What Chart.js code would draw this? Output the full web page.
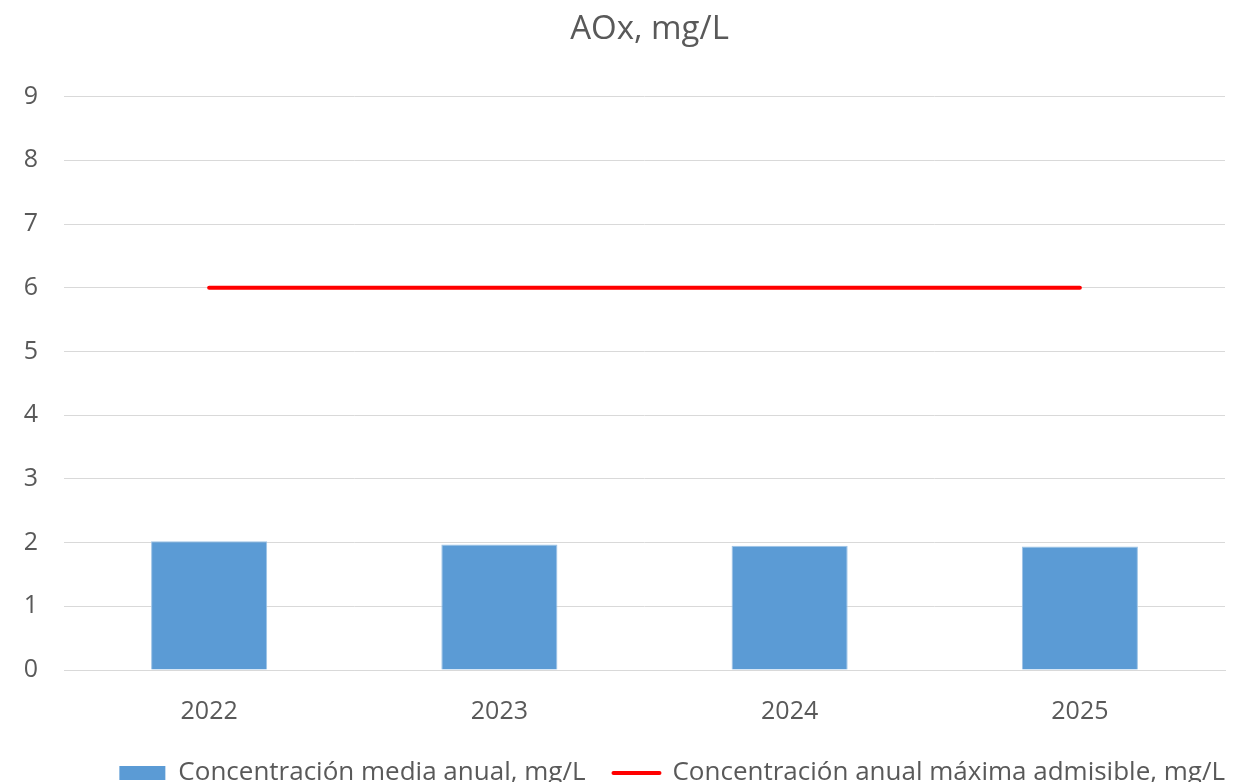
<!DOCTYPE html>
<html>
<head>
<meta charset="utf-8">
<script src="https://cdn.jsdelivr.net/npm/chart.js@4"></script>
<style>
  html, body { margin: 0; padding: 0; background: #ffffff; }
  #wrap { width: 1253px; height: 782px; }
</style>
</head>
<body>
<div id="wrap"><canvas id="c" width="1253" height="782"></canvas></div>
<script>
// Annual AOx concentration vs. the maximum admissible annual value
const years = ['2022', '2023', '2024', '2025'];
const meanAnnual = [2.02, 1.97, 1.95, 1.94];
const maxAdmissible = [6, 6, 6, 6];
const yTicks = [0, 1, 2, 3, 4, 5, 6, 7, 8, 9];

const labelMean = 'Concentración media anual, mg/L';
const labelMax = 'Concentración anual máxima admisible, mg/L';

const FONT = "'Open Sans', 'Noto Sans', sans-serif";
const TEXT = '#595959';
const GRID = '#d9d9d9';
const BLUE = '#5b9bd5';
const RED = '#ff0000';

// Centre the title over the plot area and right-align the legend with it
const blockPlacement = {
  id: 'blockPlacement',
  afterLayout(chart) {
    const t = chart.titleBlock;
    const a = chart.chartArea;
    const half = (t.right - t.left) / 2;
    const mid = (a.left + a.right) / 2 + 5;
    t.left = mid - half;
    t.right = mid + half;

    const lg = chart.legend;
    const shift = a.right - (lg.right - lg.options.labels.padding);
    lg.left += shift;
    lg.right += shift;
  }
};

new Chart(document.getElementById('c'), {
  plugins: [blockPlacement],
  data: {
    labels: years,
    datasets: [
      {
        type: 'line',
        label: labelMax,
        data: maxAdmissible,
        borderColor: RED,
        backgroundColor: RED,
        borderWidth: 4,
        borderCapStyle: 'round',
        pointRadius: 0,
        pointHoverRadius: 0,
        order: 0
      },
      {
        type: 'bar',
        label: labelMean,
        data: meanAnnual,
        backgroundColor: BLUE,
        borderColor: '#9dc3e6',
        borderWidth: 1,
        categoryPercentage: 1,
        barPercentage: 0.4,
        order: 1
      }
    ]
  },
  options: {
    responsive: false,
    animation: false,
    layout: { padding: { left: 0, right: 28, top: 0, bottom: -14 } },
    plugins: {
      tooltip: { enabled: false },
      title: {
        display: true,
        text: 'AOx, mg/L',
        color: TEXT,
        font: { family: FONT, size: 33, weight: 'normal' },
        padding: { top: 10, bottom: 47 }
      },
      legend: {
        position: 'bottom',
        align: 'end',
        labels: {
          color: TEXT,
          font: { family: FONT, size: 26 },
          usePointStyle: true,
          pointStyleWidth: 46,
          boxHeight: 14,
          padding: 28,
          generateLabels() {
            return [
              {
                text: labelMean,
                pointStyle: 'rect',
                fillStyle: BLUE,
                strokeStyle: BLUE,
                lineWidth: 0,
                fontColor: TEXT,
                datasetIndex: 1
              },
              {
                text: labelMax,
                pointStyle: 'line',
                fillStyle: RED,
                strokeStyle: RED,
                lineWidth: 4,
                lineCap: 'round',
                fontColor: TEXT,
                datasetIndex: 0
              }
            ];
          }
        }
      }
    },
    scales: {
      x: {
        afterFit(scale) { scale.height = 62; },
        grid: { display: false, drawTicks: false },
        border: { display: true, color: GRID, width: 1 },
        ticks: {
          color: TEXT,
          font: { family: FONT, size: 25 },
          padding: 27
        }
      },
      y: {
        min: 0,
        max: 9,
        afterBuildTicks(scale) {
          scale.ticks = yTicks.map(v => ({ value: v }));
        },
        afterFit(scale) { scale.width = 64; },
        grid: { color: GRID, lineWidth: 1, drawTicks: false },
        border: { display: false },
        ticks: {
          color: TEXT,
          font: { family: FONT, size: 25 },
          padding: 26
        }
      }
    }
  }
});
</script>
</body>
</html>
